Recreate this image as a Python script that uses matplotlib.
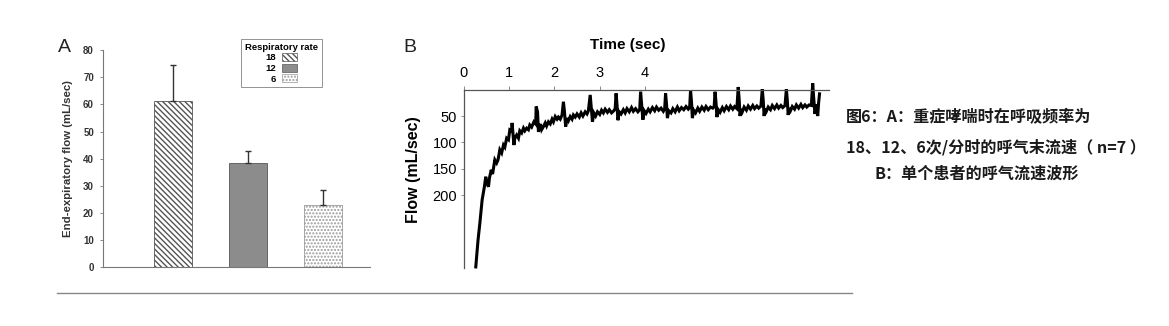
import numpy as np
import matplotlib.pyplot as plt
from matplotlib.patches import Patch
from matplotlib.lines import Line2D

plt.rcParams['font.family'] = ['Liberation Sans', 'DejaVu Sans']

# Panel A data: end-expiratory flow by respiratory rate
rates = ['18', '12', '6']
flow_mean = [61.3, 38.5, 23.0]
flow_err = [13.0, 4.4, 5.6]

# Panel B data: single patient flow trace (time in s, flow in mL/sec)
trace_t = [0.27, 0.32, 0.36, 0.41, 0.46, 0.49, 0.51, 0.55, 0.57, 0.61,
           0.64, 0.69, 0.73, 0.76, 0.80, 0.84, 0.88, 0.91, 0.95, 0.99,
           1.02, 1.06, 1.07, 1.11, 1.13, 1.17, 1.21, 1.24, 1.28, 1.32,
           1.35, 1.39, 1.43, 1.46, 1.50, 1.55, 1.59, 1.60, 1.63, 1.65,
           1.69, 1.72, 1.76, 1.80, 1.83, 1.87, 1.91, 1.95, 1.98, 2.02,
           2.06, 2.09, 2.13, 2.17, 2.20, 2.22, 2.25, 2.28, 2.31, 2.35,
           2.39, 2.42, 2.46, 2.50, 2.55, 2.59, 2.63, 2.68, 2.72, 2.75,
           2.79, 2.81, 2.84, 2.87, 2.91, 2.95, 3.00, 3.04, 3.08, 3.12,
           3.17, 3.21, 3.26, 3.31, 3.34, 3.36, 3.38, 3.40, 3.43, 3.47,
           3.52, 3.56, 3.60, 3.65, 3.70, 3.74, 3.79, 3.84, 3.88, 3.90,
           3.92, 3.95, 3.98, 4.02, 4.07, 4.11, 4.16, 4.21, 4.25, 4.30,
           4.35, 4.40, 4.43, 4.45, 4.47, 4.49, 4.52, 4.57, 4.61, 4.66,
           4.71, 4.75, 4.80, 4.85, 4.90, 4.95, 4.98, 5.00, 5.02, 5.04,
           5.07, 5.11, 5.16, 5.20, 5.25, 5.30, 5.34, 5.39, 5.44, 5.49,
           5.52, 5.54, 5.56, 5.58, 5.61, 5.65, 5.70, 5.74, 5.79, 5.84,
           5.88, 5.93, 5.97, 6.02, 6.05, 6.07, 6.09, 6.11, 6.14, 6.18,
           6.23, 6.27, 6.32, 6.37, 6.41, 6.46, 6.50, 6.55, 6.58, 6.60,
           6.62, 6.64, 6.67, 6.71, 6.76, 6.80, 6.85, 6.90, 6.94, 6.99,
           7.03, 7.08, 7.11, 7.13, 7.15, 7.17, 7.20, 7.24, 7.29, 7.33,
           7.38, 7.43, 7.47, 7.52, 7.56, 7.61, 7.66, 7.69, 7.71, 7.74,
           7.77, 7.80, 7.82, 7.84]
trace_flow = [336, 285, 253, 209, 184, 165, 177, 184, 168, 152,
              160, 133, 139, 133, 114, 120, 105, 109, 92, 95,
              76, 78, 63, 105, 92, 86, 92, 78, 82, 73,
              78, 73, 76, 67, 71, 61, 65, 32, 42, 80,
              65, 76, 70, 63, 69, 61, 65, 56, 61, 51,
              56, 52, 56, 48, 23, 39, 70, 54, 59, 51,
              56, 48, 52, 46, 52, 44, 50, 42, 46, 40,
              10, 31, 61, 44, 50, 42, 47, 39, 44, 37,
              43, 38, 44, 40, 36, 7, 28, 58, 42, 46,
              38, 44, 36, 42, 34, 41, 36, 42, 38, 4,
              25, 57, 40, 45, 37, 42, 34, 40, 33, 39,
              35, 41, 36, 7, 27, 54, 40, 44, 36, 42,
              33, 40, 34, 38, 32, 37, 34, 1, 22, 54,
              39, 44, 35, 41, 33, 39, 32, 38, 33, 35,
              32, 4, 24, 52, 38, 43, 34, 40, 32, 38,
              31, 37, 32, 36, -5, 18, 50, 37, 42, 33,
              39, 31, 37, 30, 36, 31, 35, 31, -1, 20,
              50, 36, 41, 33, 38, 30, 36, 29, 35, 30,
              34, 30, -1, 20, 48, 35, 40, 32, 37, 29,
              35, 28, 34, 29, 33, 29, 30, -12, 14, 46,
              28, 50, 25, 8]

# Figure text
caption = ['图6：A：重症哮喘时在呼吸频率为',
           '18、12、6次/分时的呼气末流速（ n=7 ）',
           'B：单个患者的呼气流速波形']
caption_x = [846, 846, 875]
caption_y = [117, 147, 174]

fig = plt.figure(figsize=(11.69, 3.26), dpi=100)

# ---------------- Panel A ----------------
axA = fig.add_axes([0.0881, 0.180, 0.2284, 0.6666])
x = np.arange(1, len(rates) + 1)
bar_w = 0.507
styles = [dict(color='white', hatch='\\\\\\\\\\\\', edgecolor='#555555'),
          dict(color='#8c8c8c', hatch=None, edgecolor='#555555'),
          dict(color='white', hatch='.....', edgecolor='#9a9a9a')]
for xi, m, st in zip(x, flow_mean, styles):
    axA.bar(xi, m, width=bar_w, color=st['color'], hatch=st['hatch'],
            edgecolor=st['edgecolor'], linewidth=0.6, zorder=2)
axA.errorbar(x, flow_mean, yerr=[[0] * 3, flow_err], fmt='none',
             ecolor='#333333', elinewidth=1.0, capsize=2, capthick=1.0, zorder=3)
axA.set_xlim(0.067, 3.627)
axA.set_ylim(0, 80)
axA.set_yticks(range(0, 81, 10))
axA.set_xticks([])
for s in ['top', 'right']:
    axA.spines[s].set_visible(False)
for s in ['left', 'bottom']:
    axA.spines[s].set_color('#777777')
    axA.spines[s].set_linewidth(0.8)
axA.tick_params(axis='y', length=2.5, width=0.6, color='#777777', labelsize=7, pad=4)
for lbl in axA.get_yticklabels():
    lbl.set_fontweight('bold')
    lbl.set_color('#333333')
axA.set_ylabel('End-expiratory flow (mL/sec)', fontsize=8.2, fontweight='bold',
               color='#333333', labelpad=7)

leg_handles = [Patch(facecolor=st['color'], hatch=st['hatch'], edgecolor=st['edgecolor'],
                     linewidth=0.5) for st in styles]
leg = axA.legend(leg_handles, rates, title='Respiratory rate', markerfirst=False,
                 loc='upper left', bbox_to_anchor=(241 / 1169, 1 - 39 / 326),
                 bbox_transform=fig.transFigure, fontsize=6.8, title_fontsize=6.8,
                 handlelength=1.6, handleheight=0.9, handletextpad=0.6,
                 labelspacing=0.15, borderpad=0.4, fancybox=False, frameon=True,
                 borderaxespad=0)
leg.get_title().set_fontweight('bold')
leg.get_frame().set_edgecolor('#777777')
leg.get_frame().set_linewidth(0.7)
for t in leg.get_texts():
    t.set_fontweight('bold')

fig.text(58 / 1169, 1 - 47 / 326, 'A', fontsize=14, va='center', ha='left', color='#222222')

# ---------------- Panel B ----------------
axB = fig.add_axes([0.3965, 0.178, 0.3127, 0.547])
axB.plot(trace_t, trace_flow, color='black', linewidth=2.2, clip_on=False,
         solid_joinstyle='miter')
axB.set_xlim(0, 8.05)
axB.set_ylim(338, 0)
axB.xaxis.tick_top()
axB.xaxis.set_label_position('top')
axB.set_xticks([0, 1, 2, 3, 4])
axB.set_yticks([50, 100, 150, 200])
for s in ['bottom', 'right']:
    axB.spines[s].set_visible(False)
for s in ['left', 'top']:
    axB.spines[s].set_color('#555555')
    axB.spines[s].set_linewidth(0.9)
axB.tick_params(axis='x', length=3, width=0.6, color='#777777', labelsize=10.5, pad=4)
axB.tick_params(axis='y', length=2.5, width=0.6, color='#777777', labelsize=10.5, pad=2)
axB.set_xlabel('Time (sec)', fontsize=11, fontweight='bold')
axB.xaxis.set_label_coords(0.45, 1.23)
axB.set_ylabel('Flow (mL/sec)', fontsize=11.5, fontweight='bold')
axB.yaxis.set_label_coords(-0.115, 0.55)

fig.text(403 / 1169, 1 - 47 / 326, 'B', fontsize=14, va='center', ha='left', color='#222222')

# ---------------- Caption ----------------
for line, xx, yy in zip(caption, caption_x, caption_y):
    fig.text(xx / 1169, 1 - yy / 326, line, fontsize=11.6, fontweight='bold',
             va='center', ha='left', color='#1a1a1a',
             family=['Noto Sans CJK SC', 'DejaVu Sans'])

# bottom rule
fig.add_artist(Line2D([57 / 1169, 852 / 1169], [1 - 293 / 326] * 2,
                      color='#888888', linewidth=1.0))

fig.savefig('out.png', dpi=100)
